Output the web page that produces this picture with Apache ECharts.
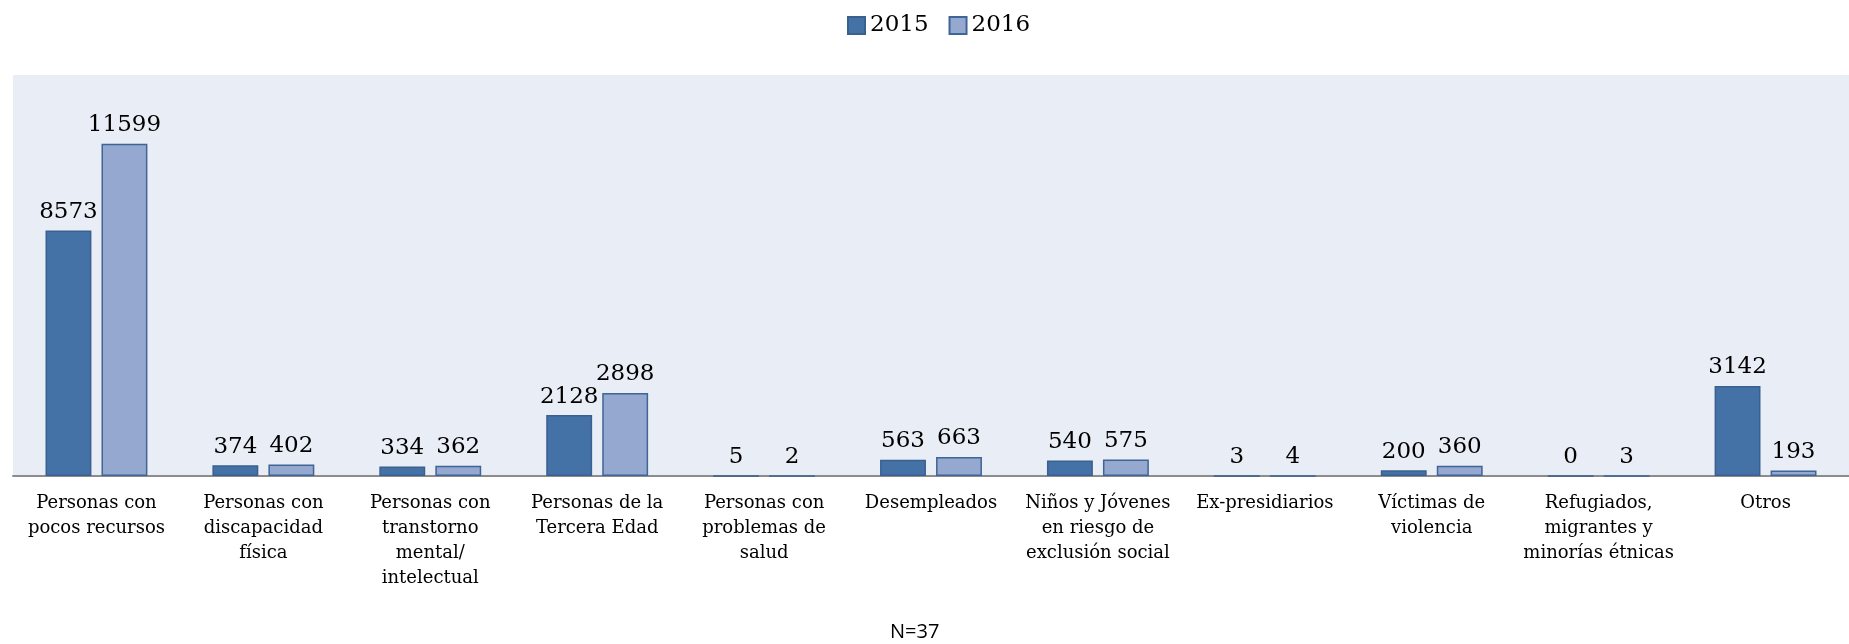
<!DOCTYPE html>
<html>
<head>
<meta charset="utf-8">
<script src="https://cdn.jsdelivr.net/npm/echarts@6/dist/echarts.min.js"></script>
<style>
  html, body { margin: 0; padding: 0; background: #fff; }
  #chart { width: 1849px; height: 644px; }
</style>
</head>
<body>
<div id="chart"></div>
<script>
  // categorías y valores por año
  const categories = [
    'Personas con\npocos recursos',
    'Personas con\ndiscapacidad\nfísica',
    'Personas con\ntranstorno\nmental/\nintelectual',
    'Personas de la\nTercera Edad',
    'Personas con\nproblemas de\nsalud',
    'Desempleados',
    'Niños y Jóvenes\nen riesgo de\nexclusión social',
    'Ex-presidiarios',
    'Víctimas de\nviolencia',
    'Refugiados,\nmigrantes y\nminorías étnicas',
    'Otros'
  ];
  const values2015 = [8573, 374, 334, 2128, 5, 563, 540, 3, 200, 0, 3142];
  const values2016 = [11599, 402, 362, 2898, 2, 663, 575, 4, 360, 3, 193];

  const serif = 'DejaVu Serif';
  const myBar = echarts.init(document.getElementById('chart'));

  const barLabel = {
    show: true,
    position: 'top',
    distance: 7,
    color: '#000',
    fontFamily: serif,
    fontSize: 23
  };

  myBar.setOption({
    animation: false,
    legend: {
      top: 9,
      left: 842,
      itemWidth: 17,
      itemHeight: 17,
      itemGap: 20,
      icon: 'rect',
      textStyle: { fontFamily: serif, fontSize: 23, color: '#000' },
      data: ['2015', '2016']
    },
    grid: {
      left: 13,
      right: 0,
      top: 75,
      bottom: 168,
      show: true,
      backgroundColor: '#E9EDF5',
      borderWidth: 0
    },
    xAxis: {
      type: 'category',
      data: categories,
      axisLine: { lineStyle: { color: '#8C8C8C', width: 2 } },
      axisTick: { show: false },
      axisLabel: {
        interval: 0,
        margin: 15,
        color: '#000',
        fontFamily: serif,
        fontSize: 18,
        lineHeight: 25
      }
    },
    yAxis: {
      type: 'value',
      min: 0,
      max: 14000,
      show: false,
      splitLine: { show: false }
    },
    series: [
      {
        name: '2015',
        type: 'bar',
        barWidth: '27.5%',
        barGap: '22%',
        data: values2015,
        itemStyle: { color: '#4472A7', borderColor: '#3A6090', borderWidth: 1.5 },
        label: barLabel
      },
      {
        name: '2016',
        type: 'bar',
        barWidth: '27.5%',
        data: values2016,
        itemStyle: { color: '#95A9D0', borderColor: '#3F6496', borderWidth: 1.5 },
        label: barLabel
      }
    ],
    graphic: [
      {
        type: 'text',
        left: 890,
        top: 622,
        style: {
          text: 'N=37',
          fontFamily: 'Open Sans',
          fontSize: 20,
          fill: '#000'
        }
      }
    ]
  });
</script>
</body>
</html>
